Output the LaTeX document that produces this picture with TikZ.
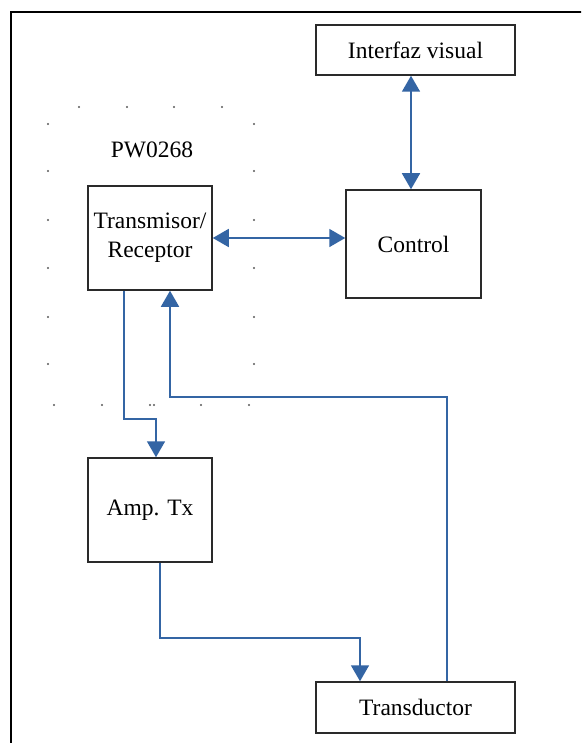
\documentclass[tikz,border=0pt]{standalone}
\usepackage{fontspec}
\setmainfont{Liberation Serif}
\usetikzlibrary{arrows.meta}
\definecolor{lineblue}{HTML}{3465A4}
\definecolor{boxline}{HTML}{2A2A2A}
\begin{document}
\begin{tikzpicture}[x=1pt,y=-1pt,
  blk/.style={draw=boxline,line width=1.5pt,fill=white,inner sep=0pt,align=center,
    font=\fontsize{23.5}{29}\selectfont},
  conn/.style={draw=lineblue,line width=1.7pt,-{Triangle[length=16pt,width=18pt]}},
  bconn/.style={draw=lineblue,line width=1.7pt,{Triangle[length=16pt,width=18pt]}-{Triangle[length=16pt,width=18pt]}},
  dot/.style={fill=black!65}]
\useasboundingbox (0,0) rectangle (581,743);
\fill[white] (0,0) rectangle (581,743);
\begin{scope}
\clip (0,0) rectangle (581,743);
\draw[line width=2.6pt,black] (11,12) rectangle (600,770);
\end{scope}
% dotted frame of PW0268
\foreach \x in {79,127,174,222} \fill[dot] (\x,107) circle (1.1);
\foreach \y in {124,171,220,268,317,364} {\fill[dot] (48,\y) circle (1.1); \fill[dot] (254,\y) circle (1.1);}
\foreach \x in {54,102,150,154,201,249} \fill[dot] (\x,405) circle (1.1);
\node[font=\fontsize{23.5}{27}\selectfont] (pw) at (152,150) {PW0268};
% blocks
\node[blk,minimum width=199pt,minimum height=50pt] (iv) at (415.5,50) {Interfaz visual};
\node[blk,minimum width=135pt,minimum height=108pt] (ctrl) at (413.5,244) {Control};
\node[blk,minimum width=124pt,minimum height=104pt] (tr) at (150,238) {Transmisor/\\Receptor};
\node[blk,minimum width=124pt,minimum height=104pt] (amp) at (150,510) {Amp. Tx};
\node[blk,minimum width=199pt,minimum height=51pt] (td) at (415.5,707.5) {Transductor};
% connectors
\draw[bconn] ([xshift=-2.5pt]ctrl.north) -- ([xshift=-2.5pt]ctrl.north |- iv.south);
\draw[bconn] (tr.east) -- (tr.east -| ctrl.west);
\draw[conn] ([xshift=-26pt]tr.south) -- ++(0,128) -| ([xshift=6pt]amp.north);
\draw[conn] ([xshift=10pt]amp.south) -- ++(0,75) -| ([xshift=-55.5pt]td.north);
\draw[conn] ([xshift=31.5pt]td.north) -- ++(0,-284) -| ([xshift=20pt]tr.south);
\end{tikzpicture}
\end{document}
